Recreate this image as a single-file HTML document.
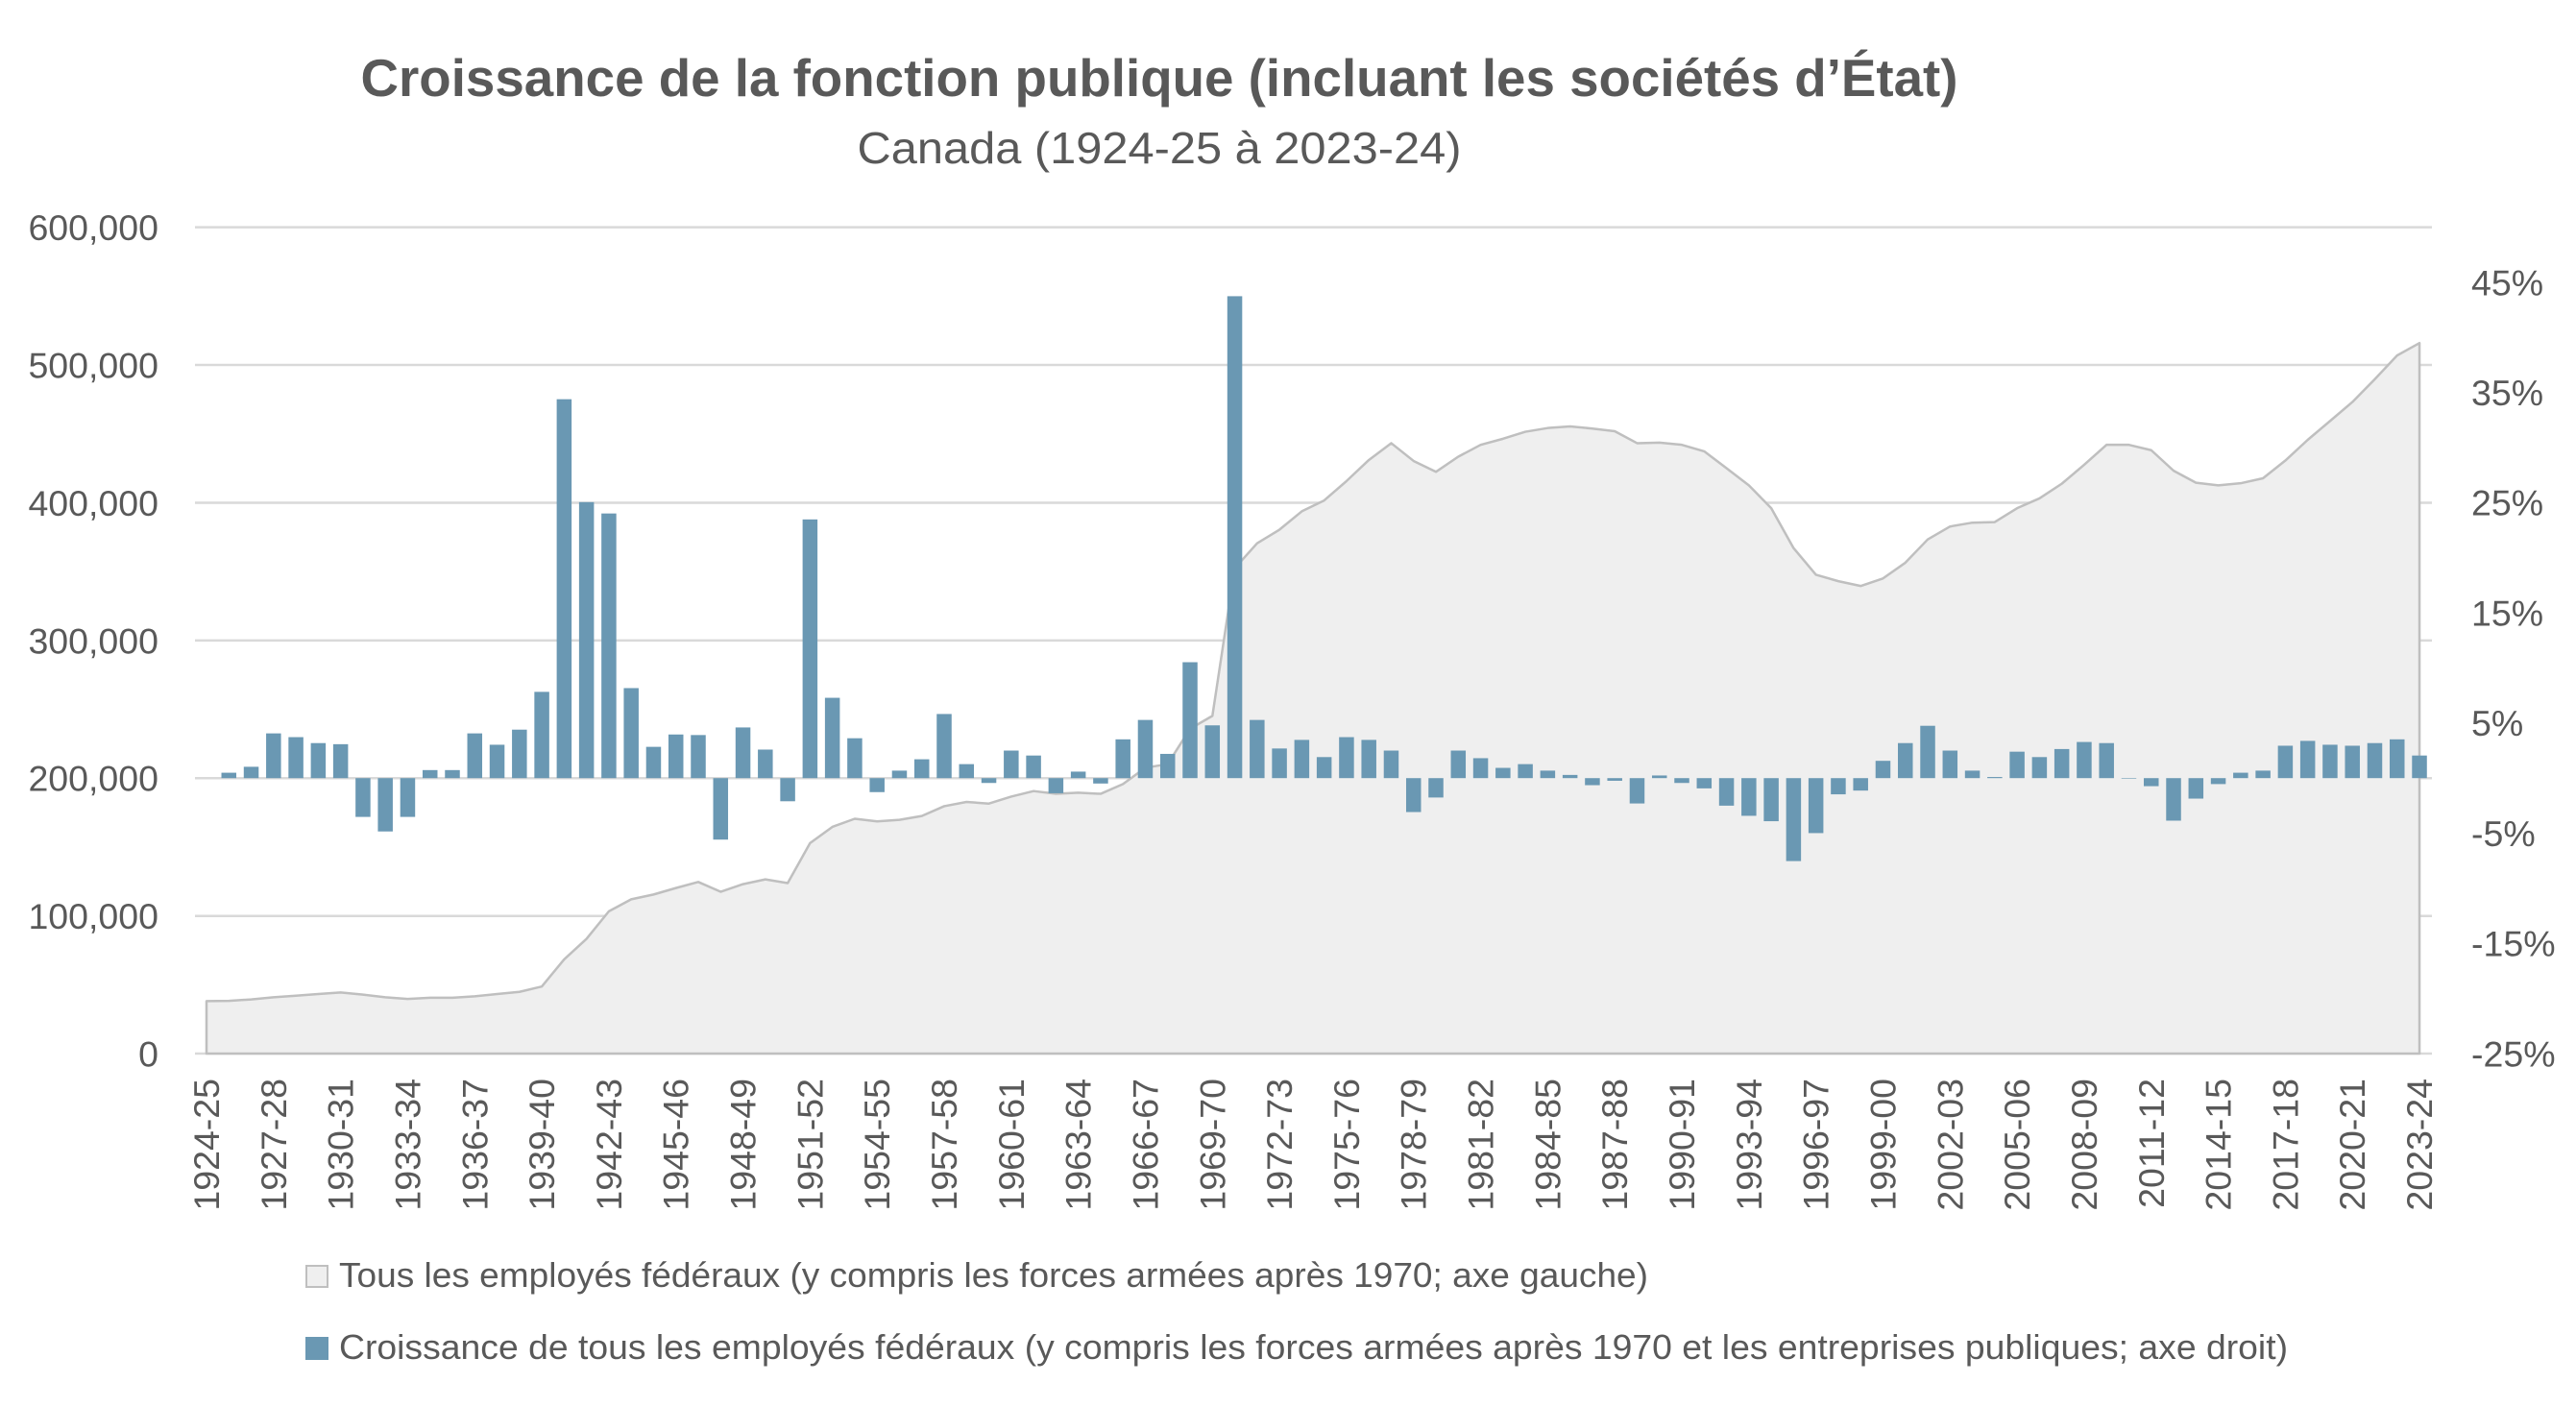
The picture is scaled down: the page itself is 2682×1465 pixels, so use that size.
<!DOCTYPE html>
<html>
<head>
<meta charset="utf-8">
<style>
html,body{margin:0;padding:0;background:#fff;}
svg{display:block;}
text{font-family:"Liberation Sans",Arial,sans-serif;fill:#595959;}
</style>
</head>
<body>
<svg width="2682" height="1465" viewBox="0 0 2682 1465" xmlns="http://www.w3.org/2000/svg">
<rect x="0" y="0" width="2682" height="1465" fill="#ffffff"/>

<!-- Title -->
<text x="1207" y="100" text-anchor="middle" font-size="55" font-weight="bold" textLength="1663" lengthAdjust="spacingAndGlyphs">Croissance de la fonction publique (incluant les sociétés d’État)</text>
<text x="1207" y="170" text-anchor="middle" font-size="46" textLength="629" lengthAdjust="spacingAndGlyphs">Canada (1924-25 à 2023-24)</text>

<!-- Gridlines -->
<g stroke="#d9d9d9" stroke-width="2.5">
<line x1="203" y1="236.6" x2="2532" y2="236.6"/>
<line x1="203" y1="380.0" x2="2532" y2="380.0"/>
<line x1="203" y1="523.5" x2="2532" y2="523.5"/>
<line x1="203" y1="666.9" x2="2532" y2="666.9"/>
<line x1="203" y1="810.3" x2="2532" y2="810.3"/>
<line x1="203" y1="953.8" x2="2532" y2="953.8"/>
<line x1="203" y1="1097" x2="2532" y2="1097"/>
</g>

<!-- Area series -->
<g transform="translate(215,1097) scale(23.273,-1.434)">
<polygon fill="#efefef" stroke="#bfbfbf" stroke-width="2.5" vector-effect="non-scaling-stroke" stroke-linejoin="round" points="0,0 0,38.1 1,38.3 2,39.3 3,40.9 4,42.0 5,43.2 6,44.4 7,42.8 8,40.9 9,39.7 10,40.5 11,40.5 12,41.6 13,43.2 14,44.8 15,48.7 16,68.4 17,83.3 18,103.3 19,112.0 20,115.5 21,120.2 22,124.6 23,117.5 24,123.0 25,126.5 26,123.8 27,152.8 28,164.6 29,170.5 30,168.6 31,169.7 32,172.5 33,179.6 34,182.7 35,181.5 36,186.6 37,190.6 38,188.6 39,189.4 40,188.6 41,195.7 42,207.5 43,210.2 44,235.8 45,245.2 46,352.4 47,370.5 48,380.4 49,393.7 50,401.6 51,415.7 52,431.0 53,443.2 54,430.3 55,422.4 56,433.4 57,442.0 58,446.4 59,451.5 60,454.2 61,455.4 62,453.8 63,451.9 64,443.2 65,443.6 66,442.0 67,437.3 68,425.0 69,412.6 70,396.0 71,367.0 72,347.7 73,343.0 74,339.5 75,345.0 76,356.4 77,373.3 78,382.7 79,385.5 80,385.9 81,396.0 82,403.1 83,413.8 84,427.5 85,442.0 86,442.0 87,438.1 88,423.2 89,414.5 90,412.6 91,414.1 92,417.7 93,430.6 94,445.6 95,459.3 96,473.1 97,489.6 98,506.9 99,515.9 99,0"/>
</g>

<!-- Bars -->
<g transform="translate(215,810.2) scale(23.273,-11.472)" fill="#6a98b3">
<rect x="0.667" y="0" width="0.666" height="0.49"/>
<rect x="1.667" y="0" width="0.666" height="1.03"/>
<rect x="2.667" y="0" width="0.666" height="4.06"/>
<rect x="3.667" y="0" width="0.666" height="3.72"/>
<rect x="4.667" y="0" width="0.666" height="3.18"/>
<rect x="5.667" y="0" width="0.666" height="3.08"/>
<rect x="6.667" y="-3.52" width="0.666" height="3.52"/>
<rect x="7.667" y="-4.84" width="0.666" height="4.84"/>
<rect x="8.667" y="-3.52" width="0.666" height="3.52"/>
<rect x="9.667" y="0" width="0.666" height="0.73"/>
<rect x="10.667" y="0" width="0.666" height="0.73"/>
<rect x="11.667" y="0" width="0.666" height="4.06"/>
<rect x="12.667" y="0" width="0.666" height="3.03"/>
<rect x="13.667" y="0" width="0.666" height="4.40"/>
<rect x="14.667" y="0" width="0.666" height="7.83"/>
<rect x="15.667" y="0" width="0.666" height="34.39"/>
<rect x="16.667" y="0" width="0.666" height="25.05"/>
<rect x="17.667" y="0" width="0.666" height="24.02"/>
<rect x="18.667" y="0" width="0.666" height="8.17"/>
<rect x="19.667" y="0" width="0.666" height="2.84"/>
<rect x="20.667" y="0" width="0.666" height="3.96"/>
<rect x="21.667" y="0" width="0.666" height="3.91"/>
<rect x="22.667" y="-5.58" width="0.666" height="5.58"/>
<rect x="23.667" y="0" width="0.666" height="4.60"/>
<rect x="24.667" y="0" width="0.666" height="2.59"/>
<rect x="25.667" y="-2.10" width="0.666" height="2.10"/>
<rect x="26.667" y="0" width="0.666" height="23.48"/>
<rect x="27.667" y="0" width="0.666" height="7.29"/>
<rect x="28.667" y="0" width="0.666" height="3.62"/>
<rect x="29.667" y="-1.27" width="0.666" height="1.27"/>
<rect x="30.667" y="0" width="0.666" height="0.68"/>
<rect x="31.667" y="0" width="0.666" height="1.71"/>
<rect x="32.667" y="0" width="0.666" height="5.82"/>
<rect x="33.667" y="0" width="0.666" height="1.27"/>
<rect x="34.667" y="-0.44" width="0.666" height="0.44"/>
<rect x="35.667" y="0" width="0.666" height="2.50"/>
<rect x="36.667" y="0" width="0.666" height="2.05"/>
<rect x="37.667" y="-1.37" width="0.666" height="1.37"/>
<rect x="38.667" y="0" width="0.666" height="0.59"/>
<rect x="39.667" y="-0.49" width="0.666" height="0.49"/>
<rect x="40.667" y="0" width="0.666" height="3.52"/>
<rect x="41.667" y="0" width="0.666" height="5.28"/>
<rect x="42.667" y="0" width="0.666" height="2.20"/>
<rect x="43.667" y="0" width="0.666" height="10.52"/>
<rect x="44.667" y="0" width="0.666" height="4.79"/>
<rect x="45.667" y="0" width="0.666" height="43.74"/>
<rect x="46.667" y="0" width="0.666" height="5.28"/>
<rect x="47.667" y="0" width="0.666" height="2.69"/>
<rect x="48.667" y="0" width="0.666" height="3.47"/>
<rect x="49.667" y="0" width="0.666" height="1.91"/>
<rect x="50.667" y="0" width="0.666" height="3.72"/>
<rect x="51.667" y="0" width="0.666" height="3.47"/>
<rect x="52.667" y="0" width="0.666" height="2.50"/>
<rect x="53.667" y="-3.08" width="0.666" height="3.08"/>
<rect x="54.667" y="-1.76" width="0.666" height="1.76"/>
<rect x="55.667" y="0" width="0.666" height="2.50"/>
<rect x="56.667" y="0" width="0.666" height="1.81"/>
<rect x="57.667" y="0" width="0.666" height="0.93"/>
<rect x="58.667" y="0" width="0.666" height="1.27"/>
<rect x="59.667" y="0" width="0.666" height="0.68"/>
<rect x="60.667" y="0" width="0.666" height="0.29"/>
<rect x="61.667" y="-0.64" width="0.666" height="0.64"/>
<rect x="62.667" y="-0.24" width="0.666" height="0.24"/>
<rect x="63.667" y="-2.30" width="0.666" height="2.30"/>
<rect x="64.667" y="0" width="0.666" height="0.24"/>
<rect x="65.667" y="-0.44" width="0.666" height="0.44"/>
<rect x="66.667" y="-0.93" width="0.666" height="0.93"/>
<rect x="67.667" y="-2.50" width="0.666" height="2.50"/>
<rect x="68.667" y="-3.42" width="0.666" height="3.42"/>
<rect x="69.667" y="-3.91" width="0.666" height="3.91"/>
<rect x="70.667" y="-7.53" width="0.666" height="7.53"/>
<rect x="71.667" y="-4.99" width="0.666" height="4.99"/>
<rect x="72.667" y="-1.47" width="0.666" height="1.47"/>
<rect x="73.667" y="-1.13" width="0.666" height="1.13"/>
<rect x="74.667" y="0" width="0.666" height="1.57"/>
<rect x="75.667" y="0" width="0.666" height="3.18"/>
<rect x="76.667" y="0" width="0.666" height="4.75"/>
<rect x="77.667" y="0" width="0.666" height="2.50"/>
<rect x="78.667" y="0" width="0.666" height="0.68"/>
<rect x="79.667" y="0" width="0.666" height="0.10"/>
<rect x="80.667" y="0" width="0.666" height="2.40"/>
<rect x="81.667" y="0" width="0.666" height="1.91"/>
<rect x="82.667" y="0" width="0.666" height="2.64"/>
<rect x="83.667" y="0" width="0.666" height="3.28"/>
<rect x="84.667" y="0" width="0.666" height="3.18"/>
<rect x="85.667" y="-0.05" width="0.666" height="0.05"/>
<rect x="86.667" y="-0.73" width="0.666" height="0.73"/>
<rect x="87.667" y="-3.86" width="0.666" height="3.86"/>
<rect x="88.667" y="-1.86" width="0.666" height="1.86"/>
<rect x="89.667" y="-0.54" width="0.666" height="0.54"/>
<rect x="90.667" y="0" width="0.666" height="0.49"/>
<rect x="91.667" y="0" width="0.666" height="0.68"/>
<rect x="92.667" y="0" width="0.666" height="2.94"/>
<rect x="93.667" y="0" width="0.666" height="3.38"/>
<rect x="94.667" y="0" width="0.666" height="3.03"/>
<rect x="95.667" y="0" width="0.666" height="2.94"/>
<rect x="96.667" y="0" width="0.666" height="3.18"/>
<rect x="97.667" y="0" width="0.666" height="3.52"/>
<rect x="98.667" y="0" width="0.666" height="2.05"/>
</g>

<!-- Left axis labels -->
<g font-size="37.5" text-anchor="end">
<text x="165" y="250">600,000</text>
<text x="165" y="393.4">500,000</text>
<text x="165" y="536.9">400,000</text>
<text x="165" y="680.3">300,000</text>
<text x="165" y="823.7">200,000</text>
<text x="165" y="967.2">100,000</text>
<text x="165" y="1110.4">0</text>
</g>

<!-- Right axis labels -->
<g font-size="37.5" text-anchor="start">
<text x="2573" y="307.3">45%</text>
<text x="2573" y="422.0">35%</text>
<text x="2573" y="536.7">25%</text>
<text x="2573" y="651.4">15%</text>
<text x="2573" y="766.2">5%</text>
<text x="2573" y="880.9">-5%</text>
<text x="2573" y="995.6">-15%</text>
<text x="2573" y="1110.4">-25%</text>
</g>

<!-- X axis labels -->
<g font-size="37.5" text-anchor="end">
<text transform="translate(228.0,1123) rotate(-90)">1924-25</text>
<text transform="translate(297.8,1123) rotate(-90)">1927-28</text>
<text transform="translate(367.6,1123) rotate(-90)">1930-31</text>
<text transform="translate(437.5,1123) rotate(-90)">1933-34</text>
<text transform="translate(507.3,1123) rotate(-90)">1936-37</text>
<text transform="translate(577.1,1123) rotate(-90)">1939-40</text>
<text transform="translate(646.9,1123) rotate(-90)">1942-43</text>
<text transform="translate(716.7,1123) rotate(-90)">1945-46</text>
<text transform="translate(786.6,1123) rotate(-90)">1948-49</text>
<text transform="translate(856.4,1123) rotate(-90)">1951-52</text>
<text transform="translate(926.2,1123) rotate(-90)">1954-55</text>
<text transform="translate(996.0,1123) rotate(-90)">1957-58</text>
<text transform="translate(1065.8,1123) rotate(-90)">1960-61</text>
<text transform="translate(1135.6,1123) rotate(-90)">1963-64</text>
<text transform="translate(1205.5,1123) rotate(-90)">1966-67</text>
<text transform="translate(1275.3,1123) rotate(-90)">1969-70</text>
<text transform="translate(1345.1,1123) rotate(-90)">1972-73</text>
<text transform="translate(1414.9,1123) rotate(-90)">1975-76</text>
<text transform="translate(1484.7,1123) rotate(-90)">1978-79</text>
<text transform="translate(1554.6,1123) rotate(-90)">1981-82</text>
<text transform="translate(1624.4,1123) rotate(-90)">1984-85</text>
<text transform="translate(1694.2,1123) rotate(-90)">1987-88</text>
<text transform="translate(1764.0,1123) rotate(-90)">1990-91</text>
<text transform="translate(1833.8,1123) rotate(-90)">1993-94</text>
<text transform="translate(1903.7,1123) rotate(-90)">1996-97</text>
<text transform="translate(1973.5,1123) rotate(-90)">1999-00</text>
<text transform="translate(2043.3,1123) rotate(-90)">2002-03</text>
<text transform="translate(2113.1,1123) rotate(-90)">2005-06</text>
<text transform="translate(2182.9,1123) rotate(-90)">2008-09</text>
<text transform="translate(2252.8,1123) rotate(-90)">2011-12</text>
<text transform="translate(2322.6,1123) rotate(-90)">2014-15</text>
<text transform="translate(2392.4,1123) rotate(-90)">2017-18</text>
<text transform="translate(2462.2,1123) rotate(-90)">2020-21</text>
<text transform="translate(2532.0,1123) rotate(-90)">2023-24</text>
</g>

<!-- Legend -->
<rect x="319" y="1318" width="22" height="22" fill="#efefef" stroke="#bfbfbf" stroke-width="2"/>
<text x="353" y="1340" font-size="36" textLength="1363" lengthAdjust="spacingAndGlyphs">Tous les employés fédéraux (y compris les forces armées après 1970; axe gauche)</text>
<rect x="318" y="1392" width="24" height="24" fill="#6a98b3"/>
<text x="353" y="1415" font-size="36" textLength="2029" lengthAdjust="spacingAndGlyphs">Croissance de tous les employés fédéraux (y compris les forces armées après 1970 et les entreprises publiques; axe droit)</text>
</svg>
</body>
</html>
